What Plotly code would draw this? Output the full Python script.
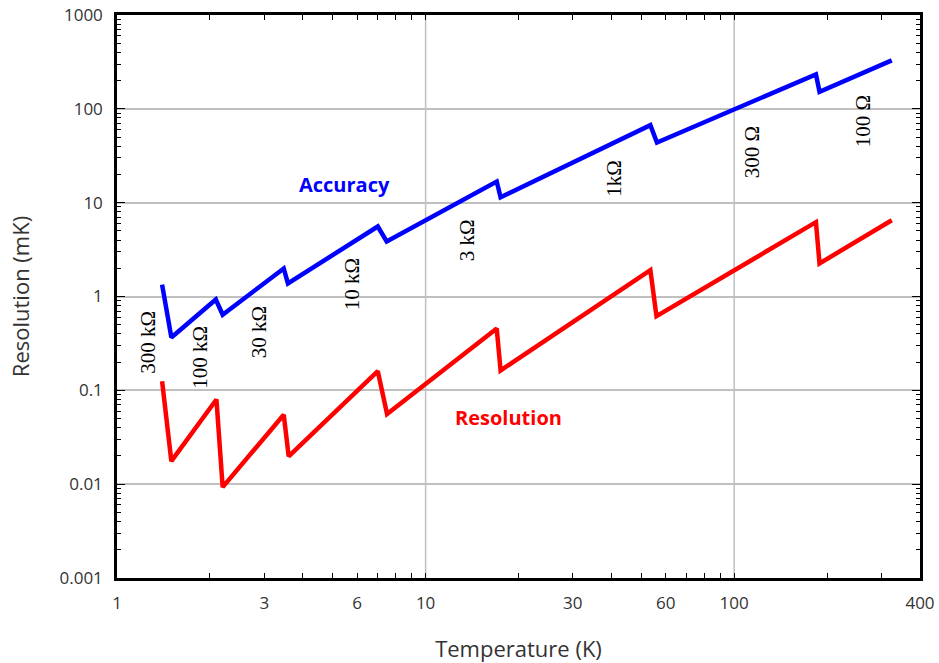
import math
import plotly.graph_objects as go

# Accuracy curve (blue)
acc_T = [1.4, 1.5, 2.09, 2.2, 3.47, 3.58, 7.0, 7.48, 17.0, 17.5, 53.5, 56.2, 184, 189, 324]
acc_v = [1.34, 0.366, 0.93, 0.64, 1.99, 1.38, 5.57, 3.86, 16.8, 11.4, 67, 43.8, 233, 152, 328]

# Resolution curve (red)
res_T = [1.4, 1.5, 2.1, 2.2, 3.47, 3.6, 7.0, 7.5, 17.0, 17.5, 53.5, 56.0, 184, 189, 324]
res_v = [0.125, 0.0176, 0.0798, 0.0093, 0.055, 0.0198, 0.16, 0.056, 0.456, 0.163, 1.91, 0.617, 6.2, 2.25, 6.5]

x_tickvals = [1, 3, 6, 10, 30, 60, 100, 400]
x_ticktext = ["1", "3", "6", "10", "30", "60", "100", "400"]
x_minor = [2, 4, 5, 7, 8, 9, 20, 40, 50, 70, 80, 90, 200, 300]
y_tickvals = [0.001, 0.01, 0.1, 1, 10, 100, 1000]
y_ticktext = ["0.001", "0.01", "0.1", "1", "10", "100", "1000"]
y_minor = [m * 10.0 ** e for e in range(-3, 3) for m in range(2, 10)]
x_grid = [10, 100]

# Range labels (text, T, value)
range_labels = [
    ("300 kΩ", 1.26, 0.33),
    ("100 kΩ", 1.86, 0.224),
    ("30 kΩ", 2.88, 0.413),
    ("10 kΩ", 5.76, 1.34),
    ("3 kΩ", 13.6, 3.95),
    ("1kΩ", 40.9, 18.1),
    ("300 Ω", 115, 34.3),
    ("100 Ω", 263, 73.4),
]
series_labels = [
    ("Accuracy", 5.47, 15.6, "#0000ff"),
    ("Resolution", 18.6, 0.0513, "#ff0000"),
]

fig = go.Figure()
fig.add_trace(go.Scatter(x=acc_T, y=acc_v, mode="lines",
                         line=dict(color="#0000ff", width=4.5), name="Accuracy"))
fig.add_trace(go.Scatter(x=res_T, y=res_v, mode="lines",
                         line=dict(color="#ff0000", width=4.5), name="Resolution"))

for gx in x_grid:
    fig.add_shape(type="line", xref="x", yref="paper", x0=gx, x1=gx, y0=0, y1=1,
                  line=dict(color="#c0c0c0", width=1.5), layer="below")

for txt, t, v in range_labels:
    fig.add_annotation(x=math.log10(t), y=math.log10(v), text=txt, showarrow=False,
                       textangle=-90,
                       font=dict(family="Liberation Serif", size=21, color="black"))
for txt, t, v, c in series_labels:
    fig.add_annotation(x=math.log10(t), y=math.log10(v), text="<b>" + txt + "</b>",
                       showarrow=False,
                       font=dict(family="Open Sans", size=20, color=c))

axis_font = dict(family="Open Sans", size=17, color="#333333")
title_font = dict(family="Open Sans", size=22, color="#333333")
fig.update_layout(
    width=939, height=663,
    margin=dict(l=117, r=19, t=15, b=85),
    paper_bgcolor="white", plot_bgcolor="white",
    showlegend=False,
    xaxis=dict(type="log", range=[0, math.log10(400)], automargin=False,
               tickvals=x_tickvals, ticktext=x_ticktext,
               ticks="inside", ticklen=5, tickwidth=1, tickcolor="black",
               ticklabelstandoff=8,
               minor=dict(tickvals=x_minor, ticks="inside", ticklen=5, tickwidth=1,
                          tickcolor="black", showgrid=False),
               showgrid=False, zeroline=False,
               showline=True, linecolor="black", linewidth=2.5, mirror="ticks",
               tickfont=axis_font,
               title=dict(text="Temperature (K)", font=title_font, standoff=30)),
    yaxis=dict(type="log", range=[-3, 3], automargin=False,
               tickvals=y_tickvals, ticktext=y_ticktext,
               ticks="inside", ticklen=8, tickwidth=1, tickcolor="black",
               ticklabelstandoff=8,
               minor=dict(tickvals=y_minor, ticks="inside", ticklen=4, tickwidth=1,
                          tickcolor="black", showgrid=False),
               showgrid=True, gridcolor="#c0c0c0", gridwidth=1.5, zeroline=False,
               showline=True, linecolor="black", linewidth=2.5, mirror="ticks",
               tickfont=axis_font,
               title=dict(text="Resolution (mK)", font=title_font, standoff=24)),
)

fig.write_html("out.html", config={"displayModeBar": False},
               post_script="document.body.style.margin='0';document.body.style.overflow='hidden';")
